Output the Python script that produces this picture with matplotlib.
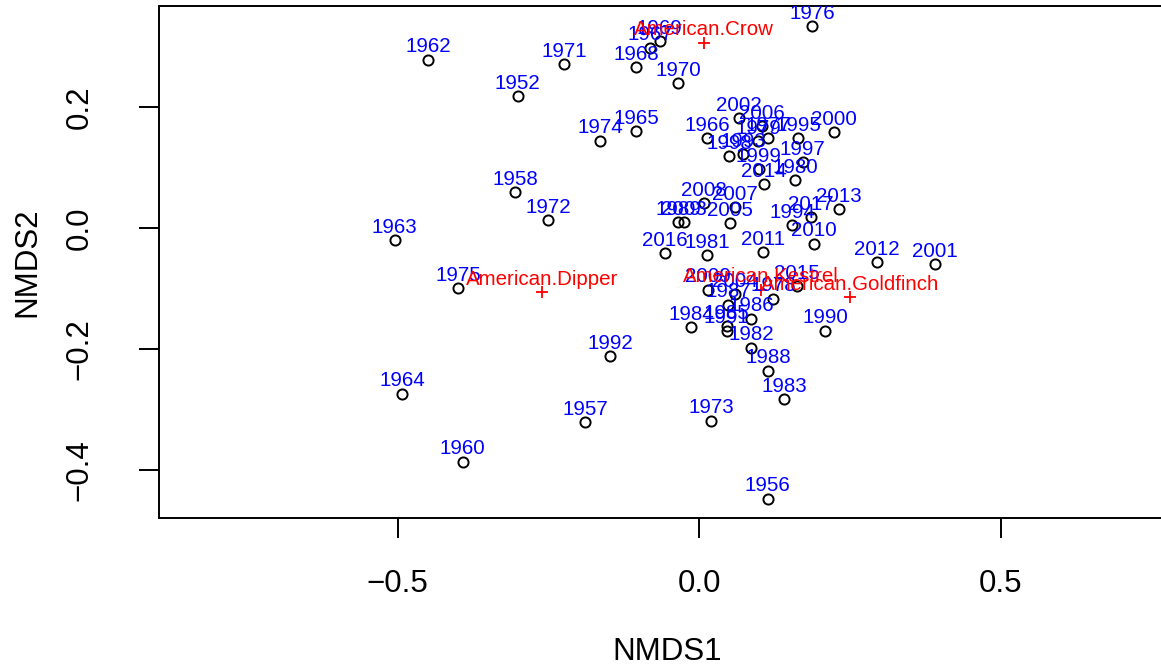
import matplotlib
matplotlib.use("Agg")
import matplotlib.pyplot as plt

plt.rcParams['font.family'] = ['Liberation Sans', 'DejaVu Sans']

# site (year) scores from the ordination
years = [1952, 1956, 1957, 1958, 1960, 1962, 1963, 1964, 1965, 1966,
         1967, 1968, 1969, 1970, 1971, 1972, 1973, 1974, 1975, 1976,
         1977, 1978, 1979, 1980, 1981, 1982, 1983, 1984, 1985, 1986,
         1987, 1988, 1989, 1990, 1991, 1992, 1993, 1994, 1995, 1997,
         1998, 1999, 2000, 2001, 2002, 2003, 2004, 2005, 2006, 2007,
         2008, 2009, 2010, 2011, 2012, 2013, 2014, 2015, 2016, 2017]
nmds1 = [-0.301, 0.114, -0.189, -0.305, -0.392, -0.449, -0.505, -0.492, -0.104, 0.013,
         -0.081, -0.104, -0.065, -0.035, -0.224, -0.250, 0.020, -0.164, -0.399, 0.187,
         0.114, 0.123, 0.098, 0.159, 0.013, 0.086, 0.141, -0.013, 0.046, 0.086,
         0.048, 0.114, -0.035, 0.209, 0.046, -0.147, 0.073, 0.154, 0.164, 0.172,
         0.050, 0.099, 0.224, 0.391, 0.066, -0.025, 0.060, 0.051, 0.104, 0.060,
         0.008, 0.015, 0.190, 0.106, 0.295, 0.232, 0.108, 0.162, -0.056, 0.185]
nmds2 = [0.218, -0.448, -0.321, 0.060, -0.387, 0.279, -0.020, -0.274, 0.160, 0.149,
         0.299, 0.266, 0.309, 0.240, 0.271, 0.013, -0.319, 0.145, -0.099, 0.334,
         0.149, -0.117, 0.144, 0.079, -0.045, -0.198, -0.283, -0.164, -0.162, -0.150,
         -0.127, -0.236, 0.010, -0.170, -0.170, -0.212, 0.122, 0.005, 0.149, 0.109,
         0.119, 0.098, 0.159, -0.060, 0.182, 0.010, -0.109, 0.008, 0.169, 0.035,
         0.041, -0.102, -0.026, -0.040, -0.056, 0.031, 0.073, -0.096, -0.041, 0.018]

# species scores
species = ["American.Crow", "American.Dipper", "American.Kestrel", "American.Goldfinch"]
sp1 = [0.008, -0.260, 0.103, 0.250]
sp2 = [0.307, -0.106, -0.102, -0.114]

fig = plt.figure(figsize=(11.61, 6.67), dpi=100)
ax = fig.add_axes([0.1372, 0.2234, 0.8748, 0.7669])

ax.plot(nmds1, nmds2, linestyle='none', marker='o', markersize=7.3,
        markerfacecolor='none', markeredgecolor='black', markeredgewidth=1.4)
for yr, x, y in zip(years, nmds1, nmds2):
    ax.annotate(str(yr), (x, y), xytext=(0, 5.3), textcoords='offset points',
                ha='center', va='baseline', color='blue', fontsize=14.8,
                clip_on=True)

ax.plot(sp1, sp2, linestyle='none', marker='+', markersize=8,
        markeredgewidth=1.3, color='red')
for name, x, y in zip(species, sp1, sp2):
    ax.annotate(name, (x, y), xytext=(0, 5.3), textcoords='offset points',
                ha='center', va='baseline', color='red', fontsize=14.8,
                clip_on=True)

ax.set_xlim(-0.895, 0.789)
ax.set_ylim(-0.480, 0.367)
ax.set_xticks([-0.5, 0.0, 0.5])
ax.set_xticklabels(['\u22120.5', '0.0', '0.5'])
ax.set_yticks([-0.4, -0.2, 0.0, 0.2])
ax.set_yticklabels(['\u22120.4', '\u22120.2', '0.0', '0.2'], rotation=90, va='center')

for s in ax.spines.values():
    s.set_linewidth(1.4)
ax.tick_params(length=14.4, width=1.4, labelsize=22.5)
ax.tick_params(axis='x', pad=22)
ax.tick_params(axis='y', pad=32)

ax.set_xlabel('NMDS1', fontsize=22.5, labelpad=28)
ax.set_ylabel('NMDS2', fontsize=22.5, labelpad=16)

fig.savefig('out.png', dpi=100)
